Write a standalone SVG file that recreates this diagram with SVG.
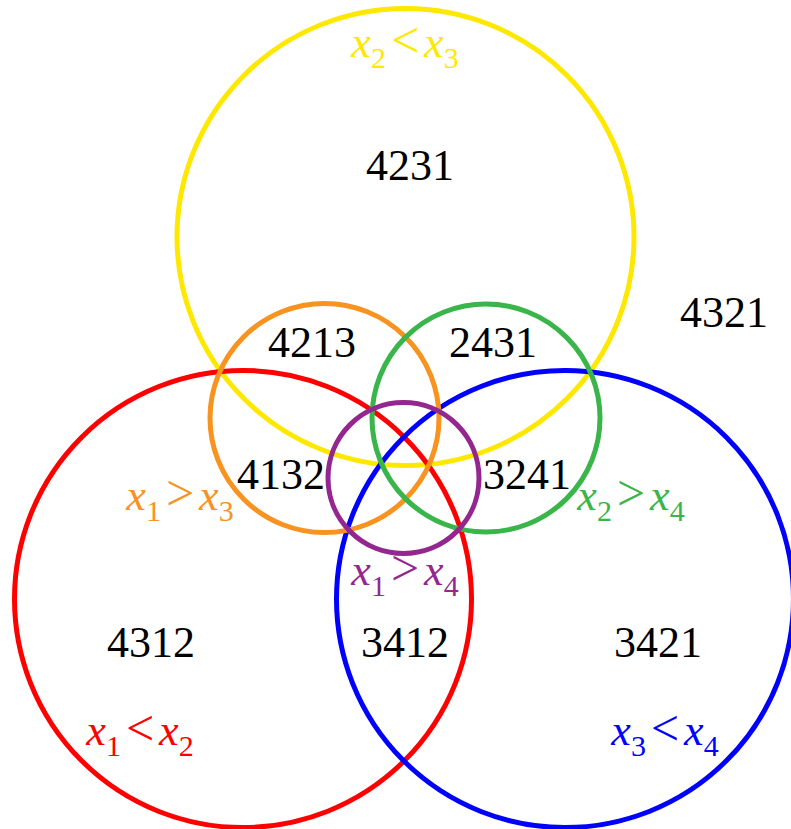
<svg xmlns="http://www.w3.org/2000/svg" width="791" height="829" viewBox="0 0 791 829">
<style>
.c{fill:none;stroke-width:5}
.n{font-size:44px;fill:#000;text-anchor:middle}
.l{font-size:44px;text-anchor:middle}
.v{font-style:italic}
.s{font-size:30px}
.r{font-size:50px}
</style>
<rect width="791" height="829" fill="#fff"/>
<g id="circles">
<g id="yellow"><circle class="c" cx="405.5" cy="237" r="228.5" stroke="#FFE800"/></g>
<g id="red"><circle class="c" cx="243" cy="599" r="228.5" stroke="#FF0000"/></g>
<g id="blue"><circle class="c" cx="565" cy="599" r="228.5" stroke="#0000FF"/></g>
<g id="orange"><circle class="c" cx="324.5" cy="418" r="114.5" stroke="#F7931E"/></g>
<g id="green"><circle class="c" cx="486" cy="418" r="114" stroke="#39B54A"/></g>
<g id="purple"><circle class="c" cx="403.5" cy="478" r="75.5" stroke="#93278F"/></g>
</g>
<g id="numbers" font-family="'Liberation Serif', 'DejaVu Serif', serif">
<text class="n" x="410" y="180">4231</text>
<text class="n" x="724" y="327">4321</text>
<text class="n" x="312" y="357">4213</text>
<text class="n" x="493" y="357">2431</text>
<text class="n" x="281" y="489">4132</text>
<text class="n" x="527" y="489">3241</text>
<text class="n" x="151" y="657">4312</text>
<text class="n" x="405" y="657">3412</text>
<text class="n" x="658" y="657">3421</text>
</g>
<g id="labels" font-family="'Liberation Serif', 'DejaVu Serif', serif">
<text class="l" x="405" y="57" fill="#FFE800"><tspan class="v">x</tspan><tspan class="s" dy="11">2</tspan><tspan class="r" dy="-11" dx="5">&lt;</tspan><tspan class="v" dx="5">x</tspan><tspan class="s" dy="11">3</tspan></text>
<text class="l" x="180" y="510" fill="#F7931E"><tspan class="v">x</tspan><tspan class="s" dy="11">1</tspan><tspan class="r" dy="-11" dx="5">&gt;</tspan><tspan class="v" dx="5">x</tspan><tspan class="s" dy="11">3</tspan></text>
<text class="l" x="631" y="510" fill="#39B54A"><tspan class="v">x</tspan><tspan class="s" dy="11">2</tspan><tspan class="r" dy="-11" dx="5">&gt;</tspan><tspan class="v" dx="5">x</tspan><tspan class="s" dy="11">4</tspan></text>
<text class="l" x="405" y="585" fill="#93278F"><tspan class="v">x</tspan><tspan class="s" dy="11">1</tspan><tspan class="r" dy="-11" dx="5">&gt;</tspan><tspan class="v" dx="5">x</tspan><tspan class="s" dy="11">4</tspan></text>
<text class="l" x="140" y="745" fill="#FF0000"><tspan class="v">x</tspan><tspan class="s" dy="11">1</tspan><tspan class="r" dy="-11" dx="5">&lt;</tspan><tspan class="v" dx="5">x</tspan><tspan class="s" dy="11">2</tspan></text>
<text class="l" x="665" y="745" fill="#0000FF"><tspan class="v">x</tspan><tspan class="s" dy="11">3</tspan><tspan class="r" dy="-11" dx="5">&lt;</tspan><tspan class="v" dx="5">x</tspan><tspan class="s" dy="11">4</tspan></text>
</g>
</svg>
